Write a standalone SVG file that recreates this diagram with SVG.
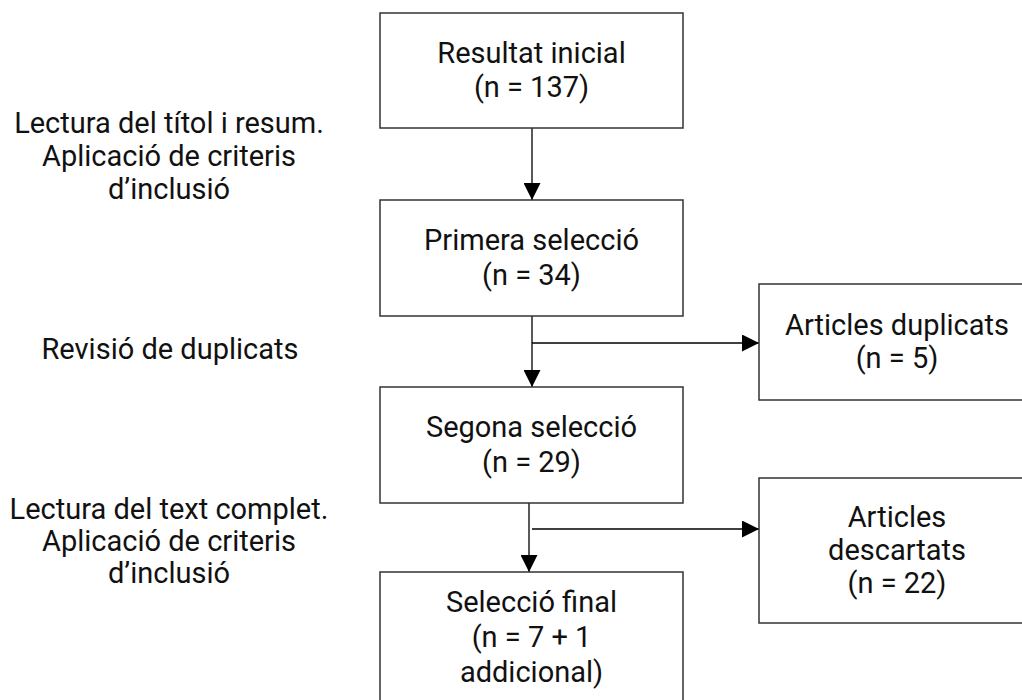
<svg xmlns="http://www.w3.org/2000/svg" width="1022" height="700" viewBox="0 0 1022 700">
<style>
.box{fill:#fff;stroke:#333;stroke-width:1.5}
.t{font-family:Roboto,"Liberation Sans",sans-serif;font-size:29px;fill:#111;text-anchor:middle}
.c{fill:none;stroke:#000;stroke-width:1.3}
</style>
<defs>
<marker id="ah" markerWidth="17" markerHeight="17" viewBox="0 0 17 17" refX="17" refY="8.5" orient="auto" markerUnits="userSpaceOnUse">
<path d="M0,0 L17,8.5 L0,17 Z" fill="#000"/>
</marker>
</defs>
<rect width="1022" height="700" fill="#fff"/>
<g id="labels">
<text class="t" x="169" y="133">Lectura del títol i resum.</text>
<text class="t" x="169" y="166">Aplicació de criteris</text>
<text class="t" x="169" y="199">d’inclusió</text>
<text class="t" x="170" y="359">Revisió de duplicats</text>
<text class="t" x="169" y="519">Lectura del text complet.</text>
<text class="t" x="169" y="551">Aplicació de criteris</text>
<text class="t" x="169" y="583">d’inclusió</text>
</g>
<g id="connectors">
<line class="c" x1="532" y1="128" x2="532" y2="200" marker-end="url(#ah)"/>
<line class="c" x1="532" y1="316" x2="532" y2="387" marker-end="url(#ah)"/>
<line class="c" x1="532" y1="343" x2="759" y2="343" marker-end="url(#ah)"/>
<line class="c" x1="529" y1="503" x2="529" y2="572" marker-end="url(#ah)"/>
<line class="c" x1="532" y1="529" x2="759" y2="529" marker-end="url(#ah)"/>
</g>
<g id="n1">
<rect class="box" x="380" y="13" width="303" height="115"/>
<text class="t" x="531.5" y="63">Resultat inicial</text>
<text class="t" x="531.5" y="97">(n = 137)</text>
</g>
<g id="n2">
<rect class="box" x="380" y="200" width="303" height="116"/>
<text class="t" x="531.5" y="250">Primera selecció</text>
<text class="t" x="531.5" y="285">(n = 34)</text>
</g>
<g id="n3">
<rect class="box" x="380" y="387" width="303" height="116"/>
<text class="t" x="531.5" y="437">Segona selecció</text>
<text class="t" x="531.5" y="472">(n = 29)</text>
</g>
<g id="n4">
<rect class="box" x="380" y="572" width="303" height="160"/>
<text class="t" x="531.5" y="612">Selecció final</text>
<text class="t" x="531.5" y="647">(n = 7 + 1</text>
<text class="t" x="531.5" y="682">addicional)</text>
</g>
<g id="n5">
<rect class="box" x="759" y="284" width="276" height="116"/>
<text class="t" x="897" y="335">Articles duplicats</text>
<text class="t" x="897" y="368">(n = 5)</text>
</g>
<g id="n6">
<rect class="box" x="759" y="478" width="276" height="145"/>
<text class="t" x="897" y="527">Articles</text>
<text class="t" x="897" y="560">descartats</text>
<text class="t" x="897" y="593">(n = 22)</text>
</g>
</svg>
